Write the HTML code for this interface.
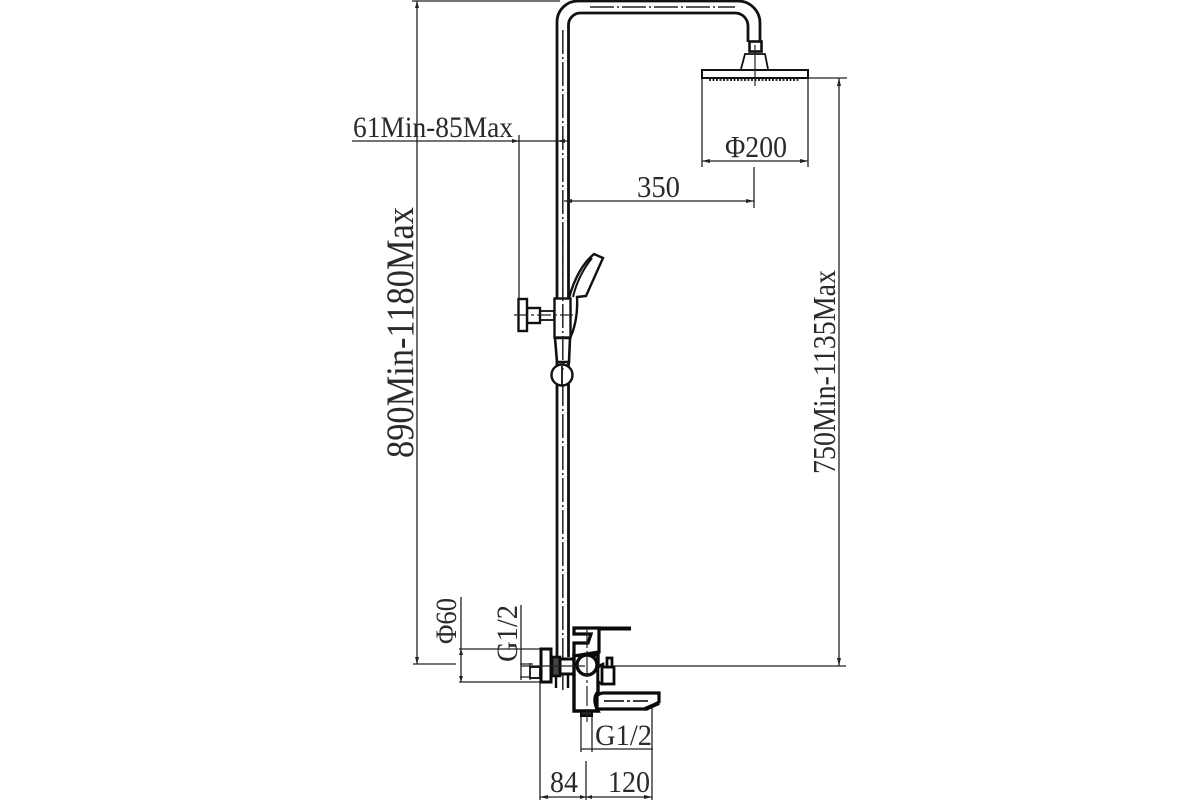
<!DOCTYPE html>
<html><head><meta charset="utf-8"><style>
html,body{margin:0;padding:0;background:#fff;width:1200px;height:800px;overflow:hidden}
svg{display:block}
text{font-family:"Liberation Serif","DejaVu Serif",serif;fill:#2a2a2a}
</style></head><body>
<svg width="1200" height="800" viewBox="0 0 1200 800" xmlns="http://www.w3.org/2000/svg">
<!-- dimension lines -->
<g fill="none" stroke="#222" stroke-width="1.300">
<path d="M412 1H560M417 1V664M413 664H456"/>
<path d="M352 141H570M519 135V298"/>
<path d="M564 201H754M754 167V208"/>
<path d="M702 78V167M808 78V167M702 161H808"/>
<path d="M808 78H847M839 78V666M614 666H846"/>
<path d="M459 649H540M459 682H540M461 597V682"/>
<path d="M521 605V680M520 664H533M520 677H533"/>
<path d="M581 712V752M592 712V752M581 749H653M652 700V800"/>
<path d="M540 682V800M586 761V800M540 797H652"/>
</g>
<!-- pipe -->
<g fill="none" stroke="#111" stroke-width="2.800">
<path d="M557 657V22A21 21 0 0 1 578 1H738A22 22 0 0 1 760 23V42"/>
<path d="M568.500 657V25A12 12 0 0 1 581 13H735A13 13 0 0 1 748 26V42"/>
</g>
<path d="M562.800 30V690M590 7H735" stroke="#222" stroke-width="1.500" stroke-dasharray="24 3 2 3" fill="none"/>
<!-- shower head -->
<g fill="#fff" stroke="#111">
<rect x="749.500" y="41.500" width="12" height="10" stroke-width="2.600"/>
<path d="M741 69L745 54H765L768 69" stroke-width="1.800"/>
<rect x="702" y="70" width="106" height="8" stroke-width="2"/>
</g>
<path d="M709 80H800" stroke="#333" stroke-width="2" stroke-dasharray="2 1.500"/>
<path d="M755 45V86" stroke="#222" stroke-width="1.200"/>
<!-- hand shower -->
<g fill="#fff" stroke="#111">
<path d="M569 298C574 280 582 264 594 254L603 258L586 296L577 297C578 316 574 330 570 338H569Z" stroke-width="2.400"/>
<path d="M573 297C577 280 584 268 592 258" stroke-width="2" fill="none"/>
<path d="M555 338L557 362H569L570 338Z" stroke-width="2.600"/>
<rect x="554.500" y="298.500" width="16" height="39" stroke-width="2.400"/>
<rect x="540" y="311" width="14" height="9" stroke-width="1.800"/>
<rect x="527" y="308" width="13" height="15" stroke-width="2.400"/>
<rect x="518.500" y="299" width="8.500" height="32" stroke-width="2.400"/>
<circle cx="562" cy="375" r="10.500" stroke-width="2.400"/>
</g>
<path d="M514 315H573" stroke="#222" stroke-width="1.200" stroke-dasharray="14 3 3 3"/>
<path d="M562 366V385" stroke="#111" stroke-width="1.800"/>
<path d="M562.800 240V370" stroke="#222" stroke-width="1.500" stroke-dasharray="24 3 2 3" fill="none"/>
<!-- mixer -->
<g fill="#fff" stroke="#0a0a0a">
<rect x="530" y="667" width="10" height="11" stroke-width="1.800"/>
<path d="M556 657V688M568 672V688" stroke-width="2.400"/>
<rect x="552" y="657" width="8" height="19" fill="#444" stroke-width="2.600"/>
<rect x="560" y="659" width="14" height="15" stroke-width="3"/>
<rect x="541" y="649" width="10" height="33" stroke-width="3"/>
<path d="M574 655H598V692C593 697 595 705 598 711H574Z" stroke-width="3.400"/>
<path d="M574 628H599V652L574 656V643H588L591 634H574Z" stroke-width="3.200"/>
<path d="M599 628.500H631" stroke-width="4"/>
<circle cx="587" cy="665" r="10" stroke-width="3.400"/>
<path d="M598 668Q600 665 603 664V684Q600 684 598 681Z" stroke-width="2.600"/>
<rect x="602" y="667" width="12" height="17" stroke-width="2.800"/>
<rect x="607" y="658" width="5" height="9" stroke-width="2.800"/>
<path d="M597 709V696Q599 693 604 693H659V702L647 709Z" stroke-width="3.200"/>
<path d="M645 709L659 703" stroke-width="4"/>
<rect x="581" y="711" width="11" height="5" fill="#222" stroke-width="2"/>
</g>
<path d="M604 701H648" stroke="#222" stroke-width="1.800" stroke-dasharray="20 3 3 3"/>
<path d="M587 628V722" stroke="#222" stroke-width="1.200" stroke-dasharray="20 3 3 3"/>
<path d="M521 666H585" stroke="#222" stroke-width="1.200"/>
<path d="M530 663V680" stroke="#222" stroke-width="1.200"/>
<!-- arrows -->
<g fill="#222">
<path d="M417 1l-2 7h4zM417 664l-2-7h4zM839 78l-2 8h4zM839 666l-2-8h4z"/>
<path d="M702 161l8-2v4zM808 161l-8-2v4zM754 201l-8-2v4zM564 201l8-2v4z"/>
<path d="M540 797l8-2v4zM652 797l-8-2v4zM586 797l-6-2v4zM586 797l6-2v4z"/>
<path d="M461 649l-2 6h4zM461 682l-2-6h4zM519 141l-7-2v4zM557 141l8-2v4z"/>
</g>
<!-- labels -->
<text x="353" y="137" font-size="30" textLength="160" lengthAdjust="spacingAndGlyphs">61Min-85Max</text>
<text x="725" y="157" font-size="31" textLength="62" lengthAdjust="spacingAndGlyphs">Φ200</text>
<text x="637" y="197" font-size="31" textLength="43" lengthAdjust="spacingAndGlyphs">350</text>
<text x="595" y="745" font-size="30" textLength="57" lengthAdjust="spacingAndGlyphs">G1/2</text>
<text x="550" y="792" font-size="31" textLength="28" lengthAdjust="spacingAndGlyphs">84</text>
<text x="608" y="792" font-size="31" textLength="42" lengthAdjust="spacingAndGlyphs">120</text>
<text transform="translate(413,458) rotate(-90)" font-size="39" textLength="251" lengthAdjust="spacingAndGlyphs">890Min-1180Max</text>
<text transform="translate(835,474) rotate(-90)" font-size="32" textLength="204" lengthAdjust="spacingAndGlyphs">750Min-1135Max</text>
<text transform="translate(456,644) rotate(-90)" font-size="30" textLength="46" lengthAdjust="spacingAndGlyphs">Φ60</text>
<text transform="translate(517,662) rotate(-90)" font-size="30" textLength="57" lengthAdjust="spacingAndGlyphs">G1/2</text>
</svg>
</body></html>
